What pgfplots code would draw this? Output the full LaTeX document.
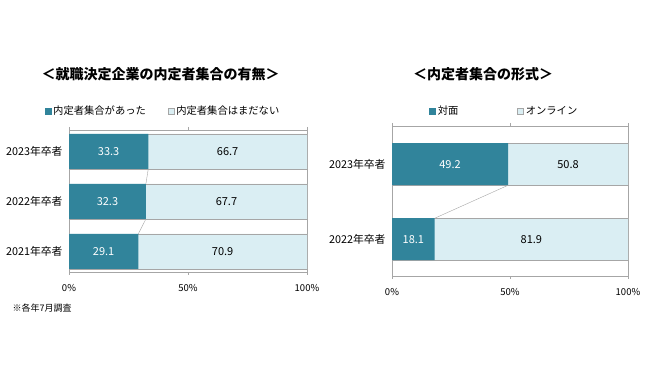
\documentclass[border=0pt]{standalone}
\usepackage{fontspec}
\setmainfont{Noto Sans CJK JP}
\usepackage{pgfplots}
\usepackage{pgfplotstable}
\pgfplotsset{compat=1.18}
\definecolor{dark}{HTML}{31849B}
\definecolor{light}{HTML}{DAEEF3}
\definecolor{frame}{HTML}{A6A6A6}

% columns: y position, dark value, light value, full bar
\pgfplotstableread{
y a b full
0 29.1 70.9 100
1 32.3 67.7 100
2 33.3 66.7 100
}\leftdata
\pgfplotstableread{
y a b full
0 18.1 81.9 100
1 49.2 50.8 100
}\rightdata

\pgfplotsset{
  mychart/.style={
    scale only axis, anchor=south west,
    xmin=0, xmax=100,
    axis line style={frame},
    xtick={0,50,100},
    xticklabel={\pgfmathprintnumber{\tick}\%},
    xticklabel style={font=\fontsize{9.5}{11}\selectfont, yshift=-6pt},
    /pgf/number format/assume math mode=true,
    tick align=outside,
    major tick length=3pt,
    tick style={frame},
    y tick style={draw=none},
    extra y tick style={tick style={frame}, major tick length=3pt},
    extra y tick labels={},
    yticklabel style={font=\fontsize{10.8}{12}\selectfont},
    title style={font=\bfseries\fontsize{14}{16}\selectfont, anchor=center},
    legend style={draw=none, fill=none, anchor=west, font=\fontsize{10.3}{12}\selectfont,
      /tikz/every even column/.append style={column sep=20pt}},
    legend columns=2,
  },
}

\begin{document}
\begin{tikzpicture}
\path[use as bounding box] (0,0) rectangle (650pt,380pt);

% ---------- left chart ----------
\begin{axis}[mychart,
  at={(69pt,108pt)}, width=238pt, height=142pt,
  ymin=-0.41, ymax=2.43,
  ytick={0,1,2},
  yticklabels={2021年卒者,2022年卒者,2023年卒者},
  extra y ticks={0.5,1.5},
  title={＜就職決定企業の内定者集合の有無＞},
  title style={at={(rel axis cs:0.385,1.352)}},
  legend style={at={(rel axis cs:-0.115,1.134)}},
]
\addlegendimage{legend image code/.code={\fill[dark] (0pt,-3pt) rectangle (6pt,3pt);}}
\addlegendentry{内定者集合があった}
\addlegendimage{legend image code/.code={\filldraw[fill=light,draw=frame] (0pt,-3pt) rectangle (6pt,3pt);}}
\addlegendentry{内定者集合はまだない}

\addplot[xbar, bar width=35pt, bar shift=0pt, fill=light, draw=frame, forget plot,
  point meta=explicit, nodes near coords,
  nodes near coords={\pgfmathprintnumber[fixed,fixed zerofill,precision=1]{\pgfplotspointmeta}},
  visualization depends on={\thisrow{b} \as \bv},
  every node near coord/.append style={anchor=center, black, font=\fontsize{11}{12}\selectfont, xshift={-\bv*1.19pt}}]
  table[x=full, y=y, meta=b] {\leftdata};
\addplot[xbar, bar width=35pt, bar shift=0pt, fill=dark, draw=none, forget plot,
  point meta=explicit, nodes near coords,
  nodes near coords={\pgfmathprintnumber[fixed,fixed zerofill,precision=1]{\pgfplotspointmeta}},
  visualization depends on={\thisrow{a} \as \av},
  every node near coord/.append style={anchor=center, white, font=\fontsize{11}{12}\selectfont, xshift={-\av*1.19pt}}]
  table[x=a, y=y, meta=a] {\leftdata};
\addplot[sharp plot, frame, thin, forget plot] coordinates {(33.3,1.65) (32.3,1.35)};
\addplot[sharp plot, frame, thin, forget plot] coordinates {(32.3,0.65) (29.1,0.35)};
\end{axis}

% ---------- right chart ----------
\begin{axis}[mychart,
  at={(392pt,104pt)}, width=236pt, height=150pt,
  ymin=-0.49, ymax=1.51,
  ytick={0,1},
  yticklabels={2022年卒者,2023年卒者},
  extra y ticks={0.5},
  title={＜内定者集合の形式＞},
  title style={at={(rel axis cs:0.386,1.307)}},
  legend style={at={(rel axis cs:0.145,1.10)},
     /tikz/every even column/.append style={column sep=57pt}},
]
\addlegendimage{legend image code/.code={\fill[dark] (0pt,-3pt) rectangle (6pt,3pt);}}
\addlegendentry{対面}
\addlegendimage{legend image code/.code={\filldraw[fill=light,draw=frame] (0pt,-3pt) rectangle (6pt,3pt);}}
\addlegendentry{オンライン}

\addplot[xbar, bar width=42pt, bar shift=0pt, fill=light, draw=frame, forget plot,
  point meta=explicit, nodes near coords,
  nodes near coords={\pgfmathprintnumber[fixed,fixed zerofill,precision=1]{\pgfplotspointmeta}},
  visualization depends on={\thisrow{b} \as \bv},
  every node near coord/.append style={anchor=center, black, font=\fontsize{11}{12}\selectfont, xshift={-\bv*1.18pt}}]
  table[x=full, y=y, meta=b] {\rightdata};
\addplot[xbar, bar width=42pt, bar shift=0pt, fill=dark, draw=none, forget plot,
  point meta=explicit, nodes near coords,
  nodes near coords={\pgfmathprintnumber[fixed,fixed zerofill,precision=1]{\pgfplotspointmeta}},
  visualization depends on={\thisrow{a} \as \av},
  every node near coord/.append style={anchor=center, white, font=\fontsize{11}{12}\selectfont, xshift={-\av*1.18pt}}]
  table[x=a, y=y, meta=a] {\rightdata};
\addplot[sharp plot, frame, thin, forget plot] coordinates {(49.2,0.72) (18.1,0.28)};
\end{axis}

\node[anchor=west, font=\fontsize{9}{10}\selectfont] at (9pt,72pt) {※各年7月調査};
\end{tikzpicture}
\end{document}
